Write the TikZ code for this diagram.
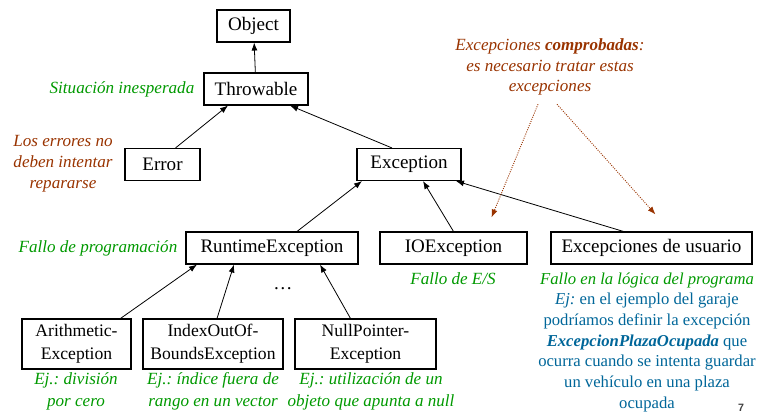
\documentclass[tikz,border=0pt]{standalone}
\usepackage{fontspec}
\setmainfont{Liberation Serif}
\setsansfont{Liberation Sans}
\usetikzlibrary{calc,arrows.meta}

\definecolor{notegreen}{RGB}{0,153,0}
\definecolor{notebrown}{RGB}{153,51,0}
\definecolor{noteblue}{RGB}{0,102,153}
\frenchspacing

\begin{document}
\begin{tikzpicture}[
		x=0.75pt, y=-0.75pt,
		>={Latex[length=6pt,width=4.5pt]},
		class/.style={
			rectangle,
			draw,
			line width=0.8pt,
			minimum height=24pt,
			inner sep=2pt,
			align=center,
			font=\fontsize{14.3}{16}\selectfont
		},
		subclass/.style={
			class,
			minimum height=37.5pt,
			font=\fontsize{13.2}{17.5}\selectfont
		},
		note/.style={
			align=center,
			font=\fontsize{12.8}{15.6}\selectfont\itshape
		}
		]
		\useasboundingbox (0,0) rectangle (760,413);

		\node[class, minimum width=54.75pt] (obj) at (253.5,26) {Object};
		\node[class, minimum width=78pt] (thr) at (256,89) {Throwable};
		\node[class, minimum width=56.25pt] (err) at (162.5,164.5) {Error};
		\node[class, minimum width=78pt] (exc) at (409,164.5) {Exception};
		\node[class, minimum width=129pt] (rte) at (272,248) {RuntimeException};
		\node[class, minimum width=110.25pt] (ioe) at (453.5,248) {IOException};
		\node[class, minimum width=150.75pt] (usr) at (651.5,248) {Excepciones de usuario};

		\node[subclass, minimum width=81.75pt] (arith) at (76.5,344) {Arithmetic-\\Exception};
		\node[subclass, minimum width=105pt] (index) at (213,344) {IndexOutOf-\\BoundsException};
		\node[subclass, minimum width=105.75pt] (null) at (365.5,344) {NullPointer-\\Exception};

		\node[font=\fontsize{14.3}{16}\selectfont] (dots) at (283,289) {\dots};

		% notas
		\node[note, notegreen, anchor=east] (nthr) at (199,89) {Situación inesperada};
		\node[note, notebrown] (nerr) at (63,164) {Los errores no\\deben intentar\\repararse};
		\node[note, notegreen, anchor=east] (nrte) at (182,248) {Fallo de programación};
		\node[note, notegreen] (nioe) at (453,279) {Fallo de E/S};
		\node[note, notegreen, font=\fontsize{12.8}{16.5}\selectfont\itshape] (narith) at (76,391) {Ej.: división\\por cero};
		\node[note, notegreen, font=\fontsize{12.8}{16.5}\selectfont\itshape] (nindex) at (213,391) {Ej.: índice fuera de\\rango en un vector};
		\node[note, notegreen, font=\fontsize{12.8}{16.5}\selectfont\itshape] (nnull) at (371,391) {Ej.: utilización de un\\objeto que apunta a null};
		\node[note, notebrown] (chk) at (550,67) {Excepciones \textbf{comprobadas}:\\es necesario tratar estas\\excepciones};
		\node[note, noteblue, font=\fontsize{12.5}{15.5}\selectfont] (nusr) at (647,342) {\textcolor{notegreen}{\textit{Fallo en la lógica del programa}}\\
			\textit{Ej:} en el ejemplo del garaje\\
			podríamos definir la excepción\\
			\textbf{\textit{ExcepcionPlazaOcupada}} que\\
			ocurra cuando se intenta guardar\\
			un vehículo en una plaza\\
			ocupada};
		\node[font=\sffamily\bfseries\fontsize{8}{9}\selectfont, black!75] (page) at (741,408) {7};

		\draw[->,line width=0.6pt] (thr) -- (obj);
		\draw[->,line width=0.6pt] ($(err.north)+(13,0)$) -- ($(thr.south)+(-28,0)$);
		\draw[->,line width=0.6pt] ($(exc.north)+(-17,0)$) -- ($(thr.south)+(34,0)$);
		\draw[->,line width=0.6pt] ($(rte.north)+(25,0)$) -- ($(exc.south)+(-47,0)$);
		\draw[->,line width=0.6pt] (ioe.north) -- ($(exc.south)+(14,0)$);
		\draw[->,line width=0.6pt] ($(usr.north)+(-28,0)$) -- ($(exc.south)+(47,0)$);
		\draw[->,line width=0.6pt] ($(arith.north)+(44,0)$) -- ($(rte.south)+(-75,0)$);
		\draw[->,line width=0.6pt] ($(index.north)+(4,0)$) -- ($(rte.south)+(-38,0)$);
		\draw[->,line width=0.6pt] ($(null.north)+(-15,0)$) -- ($(rte.south)+(48,0)$);

		\draw[->,notebrown,densely dotted,line width=0.7pt] ($(chk.south)+(-12,4)$) -- ($(ioe.north)+(38,-14)$);
		\draw[->,notebrown,densely dotted,line width=0.7pt] ($(chk.south)+(7,4)$) -- ($(usr.north)+(4,-17)$);
		\end{tikzpicture}
\end{document}
